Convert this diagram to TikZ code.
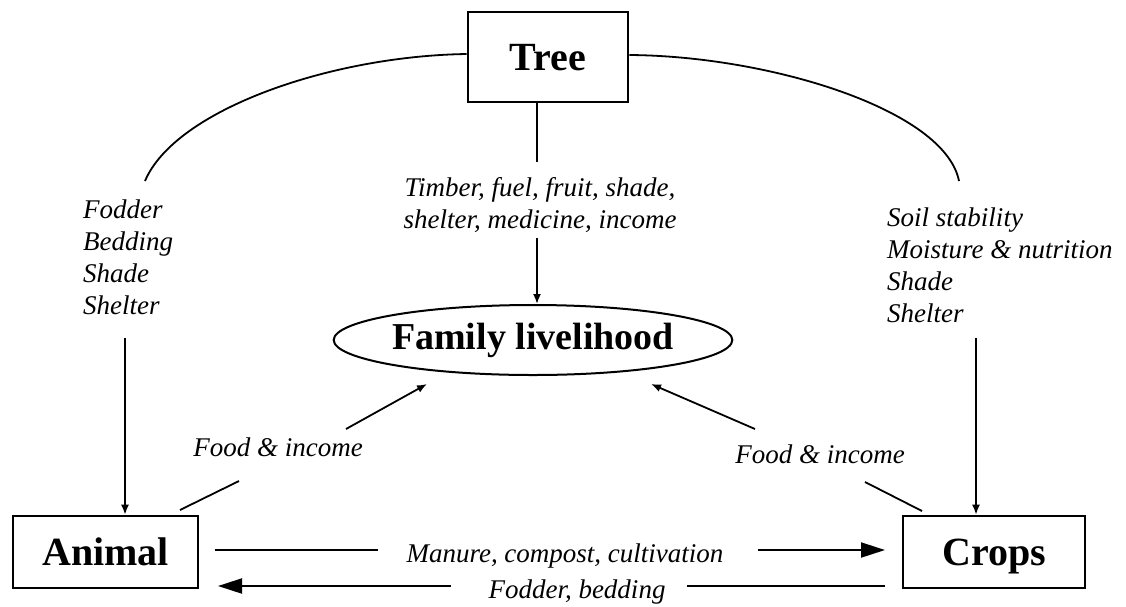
\documentclass[tikz,border=0pt]{standalone}
\usepackage{fontspec}
\setmainfont{Liberation Serif}
\usetikzlibrary{arrows.meta, shapes.geometric}

\tikzset{
  box/.style={draw, line width=2.6pt, inner sep=0pt, text height=26pt, text depth=0pt,
    font=\fontsize{40}{40}\selectfont\bfseries},
  lab/.style={inner sep=0pt, align=left, font=\fontsize{27}{32}\selectfont\itshape},
  link/.style={line width=1.8pt},
  arr/.style={line width=1.8pt, -{Latex[length=10pt,width=8pt]}},
  bigarr/.style={line width=2pt, -{Triangle[length=24pt,width=15pt]}},
}

\begin{document}
\begin{tikzpicture}[x=1pt, y=-1pt]
\useasboundingbox (0,0) rectangle (1126,606);

% the four parts
\node[box, minimum width=160pt, minimum height=90pt] (tree) at (548,57) {Tree};
\node[box, minimum width=185pt, minimum height=72pt] (animal) at (105.5,552) {Animal};
\node[box, minimum width=182pt, minimum height=72pt] (crops) at (994,552) {Crops};
\node[draw, ellipse, line width=2pt, minimum width=382pt, minimum height=70pt, inner sep=0pt,
  font=\fontsize{38}{38}\selectfont\bfseries] (family) at (533,340) {Family livelihood};

% flow labels
\node[lab, anchor=north west] (fodder) at (83,200) {Fodder\\Bedding\\Shade\\Shelter};
\node[lab, anchor=north west] (soil) at (887,208) {Soil stability\\Moisture \& nutrition\\Shade\\Shelter};
\node[lab, align=center, anchor=north] (timber) at (540,177) {Timber, fuel, fruit, shade,\\shelter, medicine, income};
\node[lab, anchor=base] (foodl) at (278,456) {Food \& income};
\node[lab, anchor=base] (foodr) at (820,463) {Food \& income};
\node[lab, anchor=base] (manure) at (565,562) {Manure, compost, cultivation};
\node[lab, anchor=base] (fodbed) at (577,598) {Fodder, bedding};

% loose ends of the connectors
\coordinate (arcl) at (145,181);
\coordinate (arcr) at (959,181);
\coordinate (tl1) at (537,162);
\coordinate (tl2) at (537,238);
\coordinate (la) at (125,338);
\coordinate (rc) at (976,338);
\coordinate (fl1) at (180,510);
\coordinate (fl2) at (239,481);
\coordinate (fl3) at (346,429);
\coordinate (fl4) at (427,384);
\coordinate (fr1) at (922,511);
\coordinate (fr2) at (865,482);
\coordinate (fr3) at (755,429);
\coordinate (fr4) at (651,384);
\coordinate (m1) at (215,550);
\coordinate (m2) at (378,550);
\coordinate (m3) at (758,550);
\coordinate (m4) at (885,550);
\coordinate (b1) at (885,586);
\coordinate (b2) at (687,586);
\coordinate (b3) at (451,586);
\coordinate (b4) at (218,586);

% tree to the others
\draw[link] ([yshift=3pt]tree.west) .. controls (330,56) and (175,110) .. (arcl);
\draw[link] ([yshift=2pt]tree.east) .. controls (770,56) and (945,110) .. (arcr);
\draw[link] (tree.south -| tl1) -- (tl1);
\draw[arr] (tl2) -- (tl2 |- family.north);
\draw[arr] (la) -- (la |- animal.north);
\draw[arr] (rc) -- (rc |- crops.north);

% food and income
\draw[link] (fl1) -- (fl2);
\draw[arr] (fl3) -- (fl4);
\draw[link] (fr1) -- (fr2);
\draw[arr] (fr3) -- (fr4);

% animal and crops
\draw[link] (m1) -- (m2);
\draw[bigarr] (m3) -- (m4);
\draw[link] (b1) -- (b2);
\draw[bigarr] (b3) -- (b4);
\end{tikzpicture}
\end{document}
